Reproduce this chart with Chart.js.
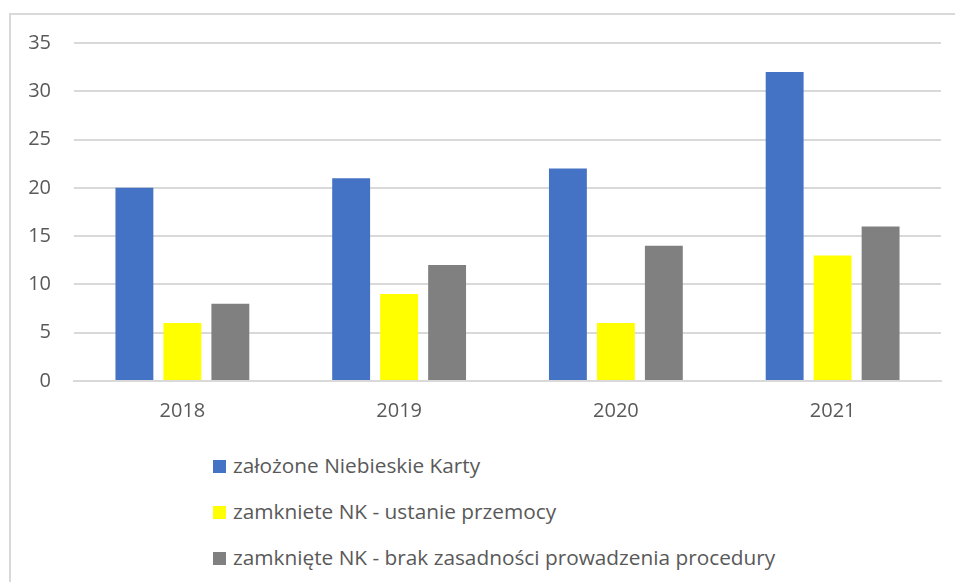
<!DOCTYPE html>
<html>
<head>
<meta charset="utf-8">
<script src="https://cdn.jsdelivr.net/npm/chart.js@4"></script>
<style>
  html, body { margin: 0; padding: 0; background: #fff; }
  body { width: 955px; height: 582px; position: relative; overflow: hidden; font-family: "Open Sans", sans-serif; }
  #frame { position: absolute; left: 9px; top: 13px; width: 980px; height: 620px; border: 2px solid #d9d9d9; box-sizing: border-box; }
  #wrap { position: absolute; left: 0; top: 0; width: 955px; height: 432px; }
  #legend { position: absolute; left: 213px; top: 451px; margin: 0; padding: 0; list-style: none; }
  #legend li { height: 46px; line-height: 28px; font-size: 20.8px; color: #595959; white-space: nowrap; }
  #legend span.box { display: inline-block; width: 13px; height: 13px; margin-right: 7px; vertical-align: 0px; }
</style>
</head>
<body>
<div id="frame"></div>
<div id="wrap"><canvas id="chart"></canvas></div>
<ul id="legend"></ul>
<script>
// lata i serie
const years = ["2018", "2019", "2020", "2021"];
const zalozone = [20, 21, 22, 32];
const ustaniePrzemocy = [6, 9, 6, 13];
const brakZasadnosci = [8, 12, 14, 16];
const yTicks = [0, 5, 10, 15, 20, 25, 30, 35];

const TEXT = "#595959";
const GRID = "#d9d9d9";
const FONT = { family: "'Open Sans', sans-serif", size: 20 };

const chart = new Chart(document.getElementById("chart"), {
  type: "bar",
  data: {
    labels: years,
    datasets: [
      { label: "założone Niebieskie Karty", data: zalozone, backgroundColor: "#4472c4" },
      { label: "zamkniete NK - ustanie przemocy", data: ustaniePrzemocy, backgroundColor: "#ffff00" },
      { label: "zamknięte NK - brak zasadności prowadzenia procedury", data: brakZasadnosci, backgroundColor: "#808080" },
    ],
  },
  options: {
    responsive: true,
    maintainAspectRatio: false,
    animation: false,
    layout: { padding: { top: 43, right: 14, left: 0, bottom: 0 } },
    datasets: { bar: { categoryPercentage: 0.664, barPercentage: 0.79 } },
    plugins: { legend: { display: false }, tooltip: { enabled: false } },
    scales: {
      x: {
        grid: { display: false },
        border: { color: GRID, width: 2 },
        ticks: { color: TEXT, font: FONT, padding: 10 },
        afterFit: (s) => { s.height = 51; },
      },
      y: {
        min: 0,
        max: 35,
        afterBuildTicks: (s) => { s.ticks = yTicks.map((v) => ({ value: v })); },
        grid: { color: GRID, lineWidth: 2, drawTicks: false },
        border: { display: false },
        ticks: { color: TEXT, font: FONT, padding: 23 },
        afterFit: (s) => { s.width = 74; },
      },
    },
  },
});

document.getElementById("legend").innerHTML = chart.options.plugins.legend.labels
  .generateLabels(chart)
  .map((it) => `<li><span class="box" style="background:${it.fillStyle}"></span>${it.text}</li>`)
  .join("");
</script>
</body>
</html>
